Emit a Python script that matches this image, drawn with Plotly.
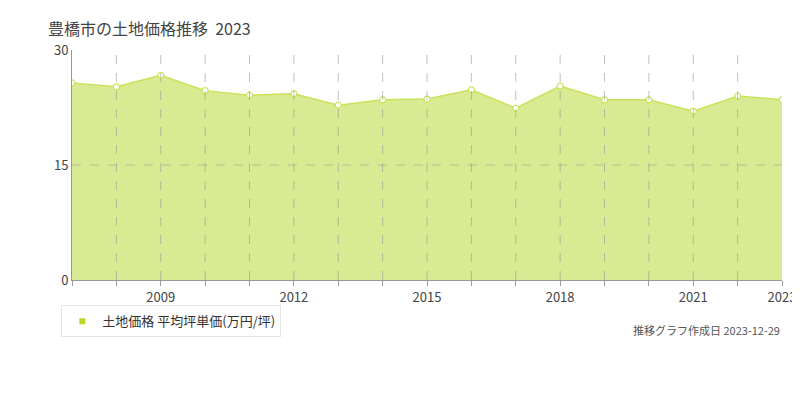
import plotly.graph_objects as go

years = list(range(2007, 2024))
values = [25.7, 25.2, 26.7, 24.7, 24.1, 24.3, 22.8, 23.5, 23.6, 24.8, 22.4, 25.3, 23.5, 23.5, 22.0, 24.0, 23.5]
tick_years = [2009, 2012, 2015, 2018, 2021, 2023]
y_ticks = [0, 15, 30]

font = "Noto Sans CJK JP"
fig = go.Figure()
fig.add_trace(go.Scatter(
    x=years, y=values, mode="lines+markers", fill="tozeroy",
    fillcolor="rgba(215,234,140,0.95)", line=dict(color="#c8e35a", width=1.5),
    marker=dict(size=6, color="white", line=dict(color="#c8e35a", width=1.2)),
    name="土地価格 平均坪単価(万円/坪)", showlegend=False))
fig.add_trace(go.Scatter(x=[None], y=[None], mode="markers",
    marker=dict(symbol="square", size=6, color="#b5d92a"),
    name="土地価格 平均坪単価(万円/坪)"))
for yr in years[1:-1]:
    fig.add_shape(type="line", x0=yr, x1=yr, y0=0, y1=1, xref="x", yref="paper",
                  line=dict(color="rgba(150,150,150,0.6)", width=1, dash="dash"), layer="above")
for yv in y_ticks[1:-1]:
    fig.add_shape(type="line", x0=0, x1=1, y0=yv, y1=yv, xref="paper", yref="y",
                  line=dict(color="rgba(150,150,150,0.5)", width=1, dash="dash"), layer="above")
fig.update_layout(
    width=800, height=400, margin=dict(l=64, r=22, t=42, b=128),
    plot_bgcolor="white", paper_bgcolor="white",
    font=dict(family=font, color="#333", size=13),
    title=dict(text="豊橋市の土地価格推移  2023", x=0.05, y=0.96, font=dict(size=16, color="#444")),
    xaxis=dict(range=[2007, 2023], tickvals=years,
               ticktext=[str(y) if y in tick_years else "" for y in years],
               showgrid=False, ticks="outside", ticklen=5, tickcolor="#999",
               showline=True, linecolor="#999", tickfont=dict(size=13, color="#444")),
    yaxis=dict(range=[0, 30], tickvals=y_ticks, showgrid=True, gridcolor="#ddd",
               griddash="dash", showline=True, linecolor="#999", zeroline=False,
               tickfont=dict(size=13, color="#444")),
    legend=dict(x=-0.015, y=-0.11, xanchor="left", yanchor="top", orientation="h",
                bgcolor="white", bordercolor="#e5e5e5", borderwidth=1, font=dict(size=13)),
)
fig.add_annotation(text="推移グラフ作成日 2023-12-29", xref="paper", yref="paper",
                   x=1.0, y=-0.26, xanchor="right", showarrow=False, font=dict(size=11, color="#555"))
fig.write_html("out.html")
